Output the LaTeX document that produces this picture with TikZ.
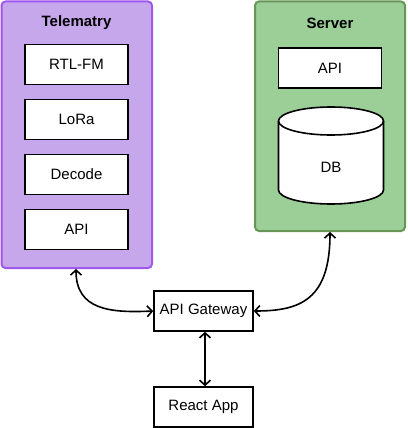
\documentclass[tikz,border=0pt]{standalone}
\usepackage{fontspec}
\setmainfont{Liberation Sans}
\usetikzlibrary{arrows.meta}
\definecolor{pfill}{RGB}{198,167,236}
\definecolor{pline}{RGB}{158,88,240}
\definecolor{gfill}{RGB}{155,207,151}
\definecolor{gline}{RGB}{104,150,86}
\begin{document}
\begin{tikzpicture}[x=1pt,y=-1pt,
  container/.style={draw, line width=2pt, rounded corners=4pt},
  box/.style={draw, line width=1.6pt, fill=white, minimum width=103pt, minimum height=40pt, inner sep=0pt, font=\fontsize{15}{17}\selectfont},
  title/.style={font=\bfseries\fontsize{15}{17}\selectfont},
  conn/.style={line width=1.6pt, {Straight Barb[length=5pt,width=11pt]}-{Straight Barb[length=5pt,width=11pt]}}]
\useasboundingbox (0,0) rectangle (407,428);
% containers
\draw[container, fill=pfill, draw=pline] (1.5,1.5) rectangle (152,268);
\node[title] (ttitle) at (76.5,23) {Telematry};
\draw[container, fill=gfill, draw=gline] (255,1.5) rectangle (405,231);
\node[title] (stitle) at (330,23) {Server};
\coordinate (tbot) at (76,269);
\coordinate (sbot) at (330,232);
% telematry boxes
\node[box] (rtl) at (76.5,64.5) {RTL-FM};
\node[box] (lora) at (76.5,119.5) {LoRa};
\node[box] (dec) at (76.5,174.5) {Decode};
\node[box] (tapi) at (76.5,229.5) {API};
% server
\node[box] (sapi) at (330,68) {API};
\draw[line width=1.6pt, fill=white] (278.5,121) -- (278.5,190) arc[start angle=180,end angle=0,x radius=52.5,y radius=14] -- (383.5,121) arc[start angle=0,end angle=-180,x radius=52.5,y radius=14] -- cycle;
\draw[line width=1.6pt] (278.5,121) arc[start angle=180,end angle=0,x radius=52.5,y radius=14];
\node[font=\fontsize{15}{17}\selectfont] (db) at (331,167) {DB};
% gateway and app
\node[box, minimum width=99pt] (gw) at (203.5,311) {API Gateway};
\node[box, minimum width=99pt] (app) at (203.5,407) {React App};
% connectors
\draw[conn] (tbot) .. controls (76,310) and (110,313) .. (gw.west);
\draw[conn] (sbot) .. controls (330,300) and (300,311) .. (gw.east);
\draw[conn] (gw.south -| 205,0) -- (app.north -| 205,0);
\end{tikzpicture}
\end{document}
